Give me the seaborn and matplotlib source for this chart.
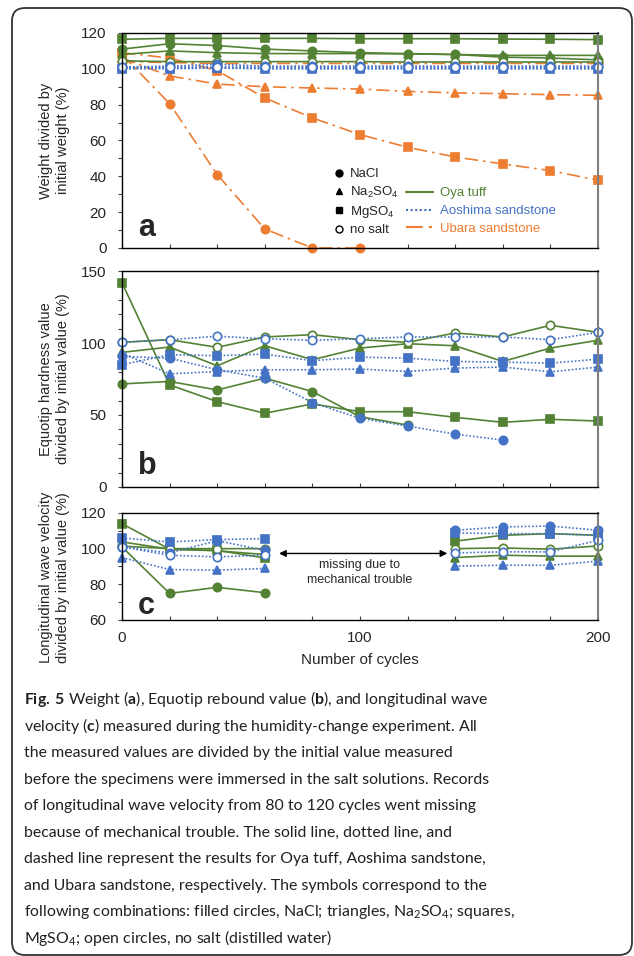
import numpy as np
import pandas as pd
import matplotlib.pyplot as plt
import seaborn as sns
from matplotlib.lines import Line2D
from matplotlib.patches import FancyBboxPatch
from matplotlib.transforms import IdentityTransform
from matplotlib.ticker import MultipleLocator

nan = np.nan
cycles = [0, 20, 40, 60, 80, 100, 120, 140, 160, 180, 200]

# (a) weight / initial weight (%)
a_oya_nacl = [111, 114, 113, 111, 110, 109, 108.5, 108, 106.5, 106, 105]
a_oya_na2so4 = [108, 110, 109, 108.5, 108.5, 108.5, 108.3, 108, 107.5, 107.5, 107.5]
a_oya_mgso4 = [116.5, 117, 117, 117, 117, 116.8, 116.8, 116.8, 116.6, 116.5, 116.3]
a_oya_none = [104.5, 104, 104, 104, 104, 104, 103.8, 103.8, 103.8, 103.8, 103.8]
a_aos_nacl = [101, 101.5, 102.5, 101.5, 101.5, 101.5, 101.5, 101.5, 101.5, 101.5, 101.5]
a_aos_na2so4 = [100.5, 100.5, 100.5, 100.3, 100.3, 100.3, 100.3, 100.3, 100.3, 100.3, 100.3]
a_aos_mgso4 = [100, 100, 100.5, 100, 100, 100, 100, 100, 100, 100, 100]
a_aos_none = [101, 101, 101, 101, 101, 101, 101, 101, 101, 101, 101]
a_uba_nacl = [108, 80.6, 41, 10.6, 0, 0, nan, nan, nan, nan, nan]
a_uba_na2so4 = [106, 96, 91.5, 90, 89.3, 88.7, 87.4, 86.6, 86.1, 85.6, 85.2]
a_uba_mgso4 = [109, 106, 99, 83.7, 72.6, 63.3, 56.2, 50.8, 46.9, 43.2, 37.8]
a_uba_none = [104, 103.5, 103, 103, 103, 103, 103, 103, 103, 103, 103]

# (b) Equotip hardness / initial value (%)
b_oya_nacl = [71.6, 73.3, 67.4, 75.6, 66.3, 48.8, 43, nan, nan, nan, nan]
b_oya_na2so4 = [93.5, 97.2, 84.2, 98.1, 88.4, 96.5, 99.5, 98.1, 87.2, 96.5, 101.9]
b_oya_mgso4 = [141.9, 70.9, 59.3, 51.2, 57.7, 52.3, 52.3, 48.4, 44.9, 47, 45.8]
b_oya_none = [100.5, 102.3, 97, 104.2, 105.8, 102.3, 100.5, 107, 104.2, 112.3, 107.4]
b_aos_nacl = [90.7, 89.5, 81.4, 75.6, 58.6, 47.7, 42.3, 36.7, 32.6, nan, nan]
b_aos_na2so4 = [93, 78.6, 80.2, 81.4, 81.4, 81.9, 80.2, 82.6, 83.3, 80, 83.3]
b_aos_mgso4 = [84.9, 91.9, 91.2, 92.3, 87.7, 90.2, 89.5, 87.2, 86.7, 86, 88.8]
b_aos_none = [100.5, 102.3, 104.7, 103, 101.9, 103, 104.2, 104.2, 104.2, 102.3, 107.4]

# (c) longitudinal wave velocity / initial value (%), 80-120 cycles missing
c_oya_nacl = [101, 74.9, 78.3, 75.3, nan, nan, nan, nan, nan, nan, nan]
c_oya_na2so4 = [103.8, 99.7, 98.8, 96.7, nan, nan, nan, 95, 96.3, 95.8, 95.8]
c_oya_mgso4 = [114, 99.7, 99, 94.8, nan, nan, nan, 104.2, 107.5, 108.4, 107.5]
c_oya_none = [101.4, 100, 100, 100, nan, nan, nan, 100, 100.4, 99.7, 101.5]
c_aos_nacl = [101, 97.6, 104.5, 99, nan, nan, nan, 110.3, 112.2, 112.7, 110.3]
c_aos_na2so4 = [95, 88.3, 87.9, 88.9, nan, nan, nan, 90.2, 90.7, 90.7, 93]
c_aos_mgso4 = [106, 103.8, 105.1, 105.6, nan, nan, nan, 108.8, 108.4, 108.4, 107.5]
c_aos_none = [101, 96.3, 95.4, 96.3, nan, nan, nan, 97.6, 98.2, 98.2, 104.7]

x_tick_labels = ["0", "", "", "", "", "100", "", "", "", "", "200"]

caption_lines = [
    r"$\mathbf{Fig.\,5}$ Weight ($\mathbf{a}$), Equotip rebound value ($\mathbf{b}$), and longitudinal wave",
    r"velocity ($\mathbf{c}$) measured during the humidity-change experiment. All",
    "the measured values are divided by the initial value measured",
    "before the specimens were immersed in the salt solutions. Records",
    "of longitudinal wave velocity from 80 to 120 cycles went missing",
    "because of mechanical trouble. The solid line, dotted line, and",
    "dashed line represent the results for Oya tuff, Aoshima sandstone,",
    "and Ubara sandstone, respectively. The symbols correspond to the",
    r"following combinations: filled circles, NaCl; triangles, Na$_2$SO$_4$; squares,",
    r"MgSO$_4$; open circles, no salt (distilled water)",
]

GREEN = "#548235"
BLUE = "#4472C4"
ORANGE = "#ED7D31"
stone_style = {
    "Oya": (GREEN, "-"),
    "Aoshima": (BLUE, (0, (1, 1.2))),
    "Ubara": (ORANGE, (0, (8, 3, 1.5, 3))),
}
salt_marker = {"NaCl": ("o", True), "Na2SO4": ("^", True), "MgSO4": ("s", True), "none": ("o", False)}

sns.set_theme(style="white")
plt.rcParams["font.family"] = ["Liberation Sans", "DejaVu Sans"]
plt.rcParams["mathtext.fontset"] = "custom"
plt.rcParams["mathtext.default"] = "regular"
plt.rcParams["mathtext.rm"] = "Lato"
plt.rcParams["mathtext.bf"] = "Lato:bold"


def draw(ax, values, stone, salt):
    color, ls = stone_style[stone]
    marker, filled = salt_marker[salt]
    df = pd.DataFrame({"cycles": cycles, "value": values})
    ok = df["value"].notna()
    runs = (ok != ok.shift()).cumsum()
    for _, seg in df[ok].groupby(runs[ok]):
        sns.lineplot(data=seg, x="cycles", y="value", ax=ax, color=color, linestyle=ls,
                     linewidth=1.2, marker=marker, markersize=6,
                     markerfacecolor=color if filled else "white",
                     markeredgecolor=color, markeredgewidth=1.2,
                     estimator=None, errorbar=None, legend=False, clip_on=False)


def setup(ax, ylim, major, ylabel, letter, label_y=0.5):
    ax.set_xlim(0, 200)
    ax.set_ylim(*ylim)
    ax.xaxis.set_major_locator(MultipleLocator(20))
    ax.yaxis.set_major_locator(MultipleLocator(major))
    ax.yaxis.set_minor_locator(MultipleLocator(10))
    ax.tick_params(axis="x", which="major", direction="in", length=3, width=0.8,
                   color="#404040", labelbottom=False, bottom=True)
    ax.tick_params(axis="y", which="both", direction="out", length=3, width=0.8,
                   color="#404040", labelsize=11, pad=8, left=True)
    ax.set_xlabel("")
    ax.set_ylabel(ylabel, fontsize=10.5, linespacing=1.25)
    ax.yaxis.set_label_coords(-0.109, label_y)
    for side in ["left", "top", "bottom"]:
        ax.spines[side].set_color("black")
        ax.spines[side].set_linewidth(1)
    ax.spines["right"].set_color("#808080")
    ax.spines["right"].set_linewidth(1.5)
    ax.text(0.034, 0.058, letter, transform=ax.transAxes, fontsize=22,
            fontweight="bold", va="baseline", ha="left")


fig = plt.figure(figsize=(6.34, 9.56), dpi=100)
ax_a = fig.add_axes([0.1924, 0.7406, 0.7508, 0.2249])
ax_b = fig.add_axes([0.1924, 0.4906, 0.7508, 0.2259])
ax_c = fig.add_axes([0.1924, 0.3515, 0.7508, 0.1119])

# panel a
for vals, stone, salt in [
    (a_uba_nacl, "Ubara", "NaCl"), (a_uba_na2so4, "Ubara", "Na2SO4"),
    (a_uba_mgso4, "Ubara", "MgSO4"), (a_uba_none, "Ubara", "none"),
    (a_oya_nacl, "Oya", "NaCl"), (a_oya_na2so4, "Oya", "Na2SO4"),
    (a_oya_mgso4, "Oya", "MgSO4"), (a_oya_none, "Oya", "none"),
    (a_aos_nacl, "Aoshima", "NaCl"), (a_aos_na2so4, "Aoshima", "Na2SO4"),
    (a_aos_mgso4, "Aoshima", "MgSO4"), (a_aos_none, "Aoshima", "none"),
]:
    draw(ax_a, vals, stone, salt)
setup(ax_a, (0, 120), 20, "Weight divided by\ninitial weight (%)", "a")

# panel b
for vals, stone, salt in [
    (b_oya_nacl, "Oya", "NaCl"), (b_oya_na2so4, "Oya", "Na2SO4"),
    (b_oya_mgso4, "Oya", "MgSO4"), (b_oya_none, "Oya", "none"),
    (b_aos_nacl, "Aoshima", "NaCl"), (b_aos_na2so4, "Aoshima", "Na2SO4"),
    (b_aos_mgso4, "Aoshima", "MgSO4"), (b_aos_none, "Aoshima", "none"),
]:
    draw(ax_b, vals, stone, salt)
setup(ax_b, (0, 150), 50, "Equotip hardness value\ndivided by initial value (%)", "b")

# panel c
for vals, stone, salt in [
    (c_oya_nacl, "Oya", "NaCl"), (c_oya_na2so4, "Oya", "Na2SO4"),
    (c_oya_mgso4, "Oya", "MgSO4"), (c_oya_none, "Oya", "none"),
    (c_aos_nacl, "Aoshima", "NaCl"), (c_aos_na2so4, "Aoshima", "Na2SO4"),
    (c_aos_mgso4, "Aoshima", "MgSO4"), (c_aos_none, "Aoshima", "none"),
]:
    draw(ax_c, vals, stone, salt)
setup(ax_c, (60, 120), 20, "Longitudinal wave velocity\ndivided by initial value (%)", "c", label_y=0.40)
ax_c.set_xticks(cycles)
ax_c.set_xticklabels(x_tick_labels)
ax_c.tick_params(axis="x", labelbottom=True, labelsize=11, pad=8)
ax_c.set_xlabel("Number of cycles", fontsize=11, labelpad=6)
ax_c.annotate("", xy=(66, 97.3), xytext=(136.7, 97.3),
              arrowprops=dict(arrowstyle="<|-|>", color="black", lw=1, mutation_scale=10,
                              shrinkA=0, shrinkB=0))
ax_c.text(100, 86.6, "missing due to\nmechanical trouble", ha="center", va="center",
          fontsize=9, linespacing=1.25)

# legends in panel a
salt_labels = ["NaCl", "Na$_2$SO$_4$", "MgSO$_4$", "no salt"]
salt_handles = [Line2D([], [], color="black", marker=m, linestyle="none", markersize=5,
                       markerfacecolor="black" if f else "white", markeredgecolor="black")
                for m, f in salt_marker.values()]
leg1 = ax_a.legend(salt_handles, salt_labels, loc="upper left", bbox_to_anchor=(0.442, 0.372),
                   frameon=False, fontsize=9.5, handlelength=1.0, handletextpad=0.35,
                   labelspacing=0.32, borderpad=0, borderaxespad=0)
ax_a.add_artist(leg1)
stone_labels = ["Oya tuff", "Aoshima sandstone", "Ubara sandstone"]
stone_handles = [Line2D([], [], color=c, linestyle=ls, lw=1.5) for c, ls in stone_style.values()]
ax_a.legend(stone_handles, stone_labels, loc="upper left", bbox_to_anchor=(0.597, 0.283),
            frameon=False, fontsize=9.5, handlelength=2.05, handletextpad=0.55,
            labelspacing=0.42, borderpad=0, borderaxespad=0, labelcolor="linecolor")

# caption
for i, line in enumerate(caption_lines):
    fig.text(24 / 634, 1 - (704.3 + 26.5 * i) / 956, line, fontsize=11.4, family="Lato",
             color="#231f20", va="baseline", ha="left")

# rounded frame round the whole figure
frame = FancyBboxPatch((12, 1), 620, 947, boxstyle="round,pad=0,rounding_size=13",
                       transform=IdentityTransform(), fill=False, edgecolor="#333333", lw=1.3)
fig.add_artist(frame)

fig.savefig("out.png", dpi=100)
